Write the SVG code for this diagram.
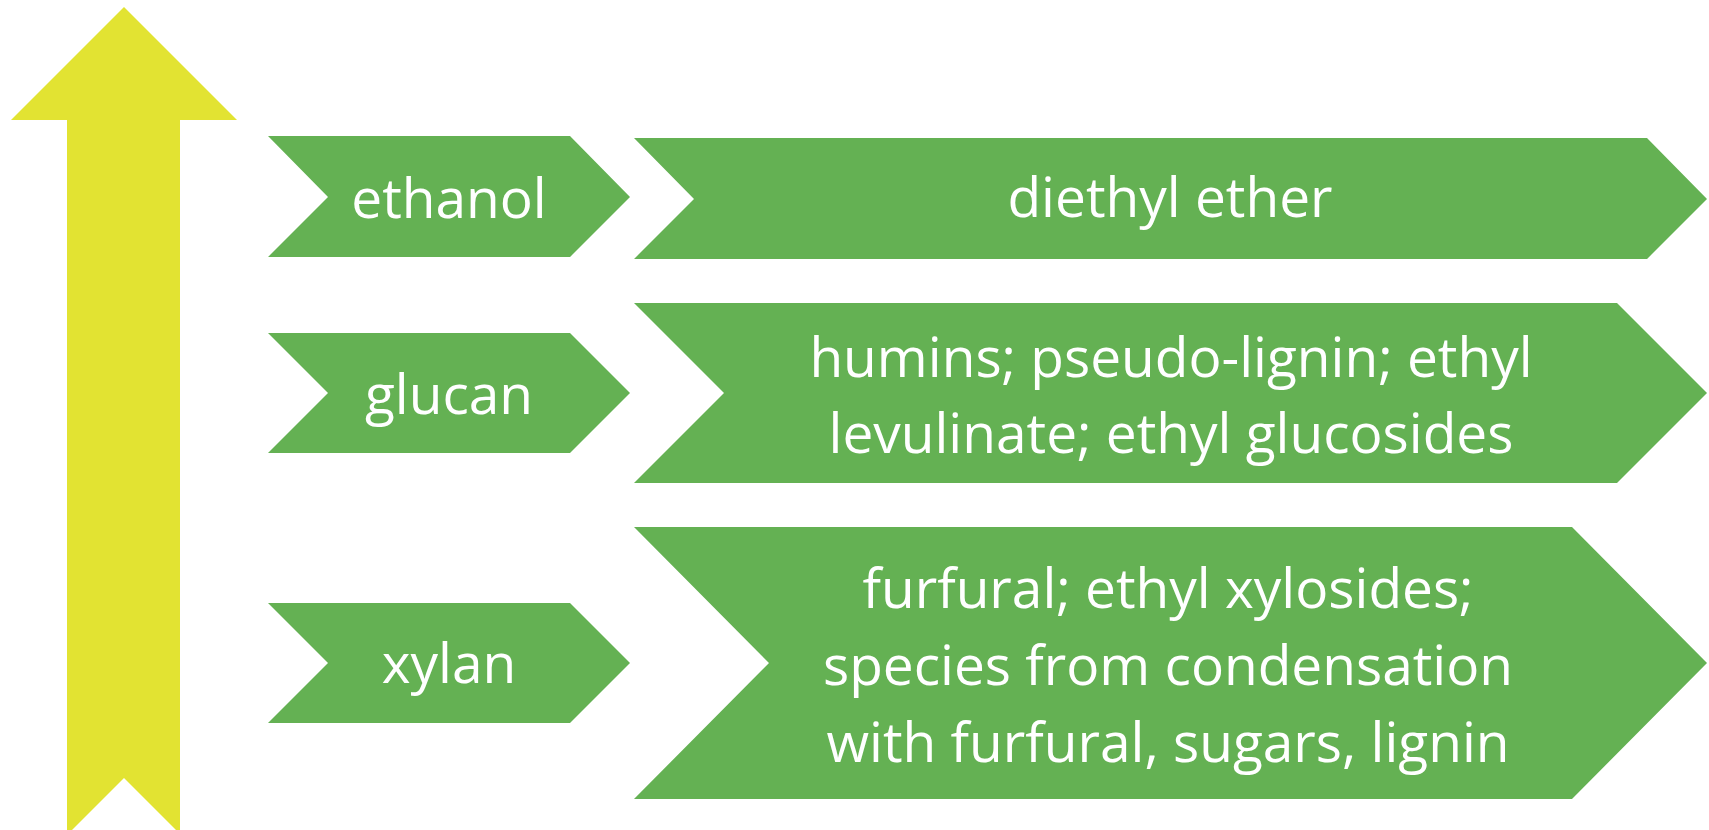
<svg xmlns="http://www.w3.org/2000/svg" width="1709" height="830" viewBox="0 0 1709 830">
<style>
.chev{fill:#64B153}
.lbl{font-family:"Open Sans","Liberation Sans",sans-serif;font-size:55px;fill:#FFFFFF;text-anchor:middle}
</style>
<rect width="1709" height="830" fill="#FFFFFF"/>
<g id="axis-arrow">
<polygon points="124,7 237,120 180,120 180,830 176,830 124,778 72,830 67,830 67,120 11,120" fill="#E2E332"/>
</g>
<g id="connectors"></g>
<g id="ethanol">
<polygon class="chev" points="268,136 570,136 630,197 570,257 268,257 328,197"/>
<text class="lbl" x="449" y="218">ethanol</text>
</g>
<g id="diethyl-ether">
<polygon class="chev" points="634,138 1647,138 1707,199 1647,259 634,259 694,199"/>
<text class="lbl" x="1170" y="217">diethyl ether</text>
</g>
<g id="glucan">
<polygon class="chev" points="268,333 570,333 630,393 570,453 268,453 328,393"/>
<text class="lbl" x="449" y="414">glucan</text>
</g>
<g id="glucan-products">
<polygon class="chev" points="634,303 1617,303 1707,393 1617,483 634,483 724,393"/>
<text class="lbl" x="1171" y="377">humins; pseudo-lignin; ethyl</text>
<text class="lbl" x="1171" y="453">levulinate; ethyl glucosides</text>
</g>
<g id="xylan">
<polygon class="chev" points="268,603 570,603 630,663 570,723 268,723 328,663"/>
<text class="lbl" x="449" y="683">xylan</text>
</g>
<g id="xylan-products">
<polygon class="chev" points="634,527 1572,527 1707,663 1572,799 634,799 769,663"/>
<text class="lbl" x="1168" y="608">furfural; ethyl xylosides;</text>
<text class="lbl" x="1168" y="685">species from condensation</text>
<text class="lbl" x="1168" y="762">with furfural, sugars, lignin</text>
</g>
</svg>
